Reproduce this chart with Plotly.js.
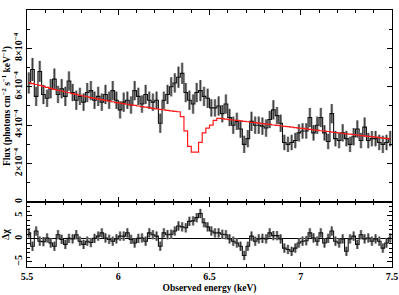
<!DOCTYPE html>
<html>
<head>
<meta charset="utf-8">
<script src="https://cdn.plot.ly/plotly-3.0.1.min.js"></script>
<style>html,body{margin:0;padding:0;background:#fff;}#chart{width:399px;height:295px;}</style>
</head>
<body>
<div id="chart"></div>
<script>
// Bin centres (keV)
const energy = [5.51,5.53,5.55,5.57,5.59,5.61,5.63,5.65,5.67,5.69,5.71,5.73,5.75,5.77,5.79,5.81,5.83,5.85,5.87,5.89,
5.91,5.93,5.95,5.97,5.99,6.01,6.03,6.05,6.07,6.09,6.11,6.13,6.15,6.17,6.19,6.21,6.23,6.25,6.27,6.29,
6.31,6.33,6.35,6.37,6.39,6.41,6.43,6.45,6.47,6.49,6.51,6.53,6.55,6.57,6.59,6.61,6.63,6.65,6.67,6.69,
6.71,6.73,6.75,6.77,6.79,6.81,6.83,6.85,6.87,6.89,6.91,6.93,6.95,6.97,6.99,7.01,7.03,7.05,7.07,7.09,
7.11,7.13,7.15,7.17,7.19,7.21,7.23,7.25,7.27,7.29,7.31,7.33,7.35,7.37,7.39,7.41,7.43,7.45,7.47,7.49];

// Observed flux, units of 1e-4 photons cm^-2 s^-1 keV^-1
const flux = [6.2,6.9,5.5,6.8,5.6,5.4,5.9,6.4,5.6,5.9,5.5,6.3,5.7,5.3,5.5,5.2,5.7,5.8,5.3,5.5,
5.2,5.6,5.3,5.8,5.3,4.8,5.2,5.3,5.05,5.8,5.5,5.1,5.6,5.3,5.2,5.3,4.1,5.3,5.6,6.0,
6.2,6.5,6.7,5.7,5.3,5.1,5.7,5.8,5.5,5.4,4.9,4.9,5.0,4.6,5.1,4.4,4.0,4.2,3.8,3.0,
3.3,4.2,4.0,4.0,3.95,3.85,4.3,4.8,4.5,4.1,3.1,3.0,3.1,3.2,3.6,3.7,3.7,4.4,3.6,4.0,
4.4,3.6,3.15,4.6,3.3,3.2,3.6,3.3,3.0,3.4,3.8,3.2,3.9,3.2,3.3,3.3,3.1,3.0,3.1,3.3];

// 1-sigma errors on flux (same units)
const fluxErr = [0.55,0.6,0.5,0.55,0.5,0.45,0.5,0.55,0.45,0.5,0.5,0.5,0.45,0.5,0.45,0.45,0.5,0.5,0.45,0.5,
0.45,0.5,0.45,0.5,0.45,0.45,0.5,0.45,0.45,0.5,0.45,0.45,0.5,0.45,0.45,0.45,0.5,0.45,0.5,0.5,
0.5,0.55,0.55,0.5,0.5,0.5,0.5,0.55,0.5,0.5,0.45,0.45,0.5,0.45,0.5,0.45,0.45,0.45,0.45,0.45,
0.45,0.5,0.45,0.45,0.45,0.45,0.45,0.5,0.45,0.45,0.4,0.4,0.4,0.4,0.45,0.4,0.4,0.5,0.4,0.45,
0.5,0.4,0.4,0.5,0.4,0.4,0.45,0.4,0.4,0.45,0.45,0.4,0.5,0.4,0.4,0.4,0.4,0.45,0.4,0.4];

// Model (red), same units
const model = [6.22,6.17,6.12,6.07,6.02,5.97,5.92,5.87,5.82,5.78,5.73,5.69,5.64,5.60,5.56,5.52,5.48,5.44,5.40,5.36,
5.33,5.29,5.25,5.22,5.18,5.15,5.12,5.09,5.06,5.03,5.00,4.97,4.94,4.91,4.88,4.85,4.82,4.80,4.77,4.75,
4.72,4.70,4.45,3.70,2.90,2.60,2.60,3.10,3.60,3.85,4.00,4.25,4.36,4.34,4.32,4.29,4.27,4.25,4.22,4.20,
4.18,4.15,4.13,4.11,4.08,4.06,4.04,4.01,3.99,3.97,3.94,3.92,3.90,3.87,3.85,3.83,3.81,3.78,3.76,3.74,
3.71,3.69,3.67,3.64,3.62,3.60,3.58,3.55,3.53,3.51,3.49,3.46,3.44,3.42,3.40,3.38,3.35,3.33,3.31,3.29];

// Residuals (delta chi)
const resid = [1.3,-1.6,1.7,-0.5,-0.6,0.2,-0.9,-1.6,0.9,-0.1,-1.2,0.1,0.0,0.9,-0.5,-1.2,-0.5,-0.8,0.1,0.6,
1.3,0.2,-0.1,-0.5,0.0,0.6,0.6,1.3,-0.1,-0.9,0.1,0.2,-0.5,1.3,0.9,0.6,-1.6,1.3,0.9,1.0,
1.7,2.8,2.6,2.4,3.8,3.9,4.6,5.5,3.5,2.6,1.7,1.3,1.3,1.0,0.9,0.0,-0.5,-0.9,-1.6,-3.6,
-1.6,0.6,-0.5,0.0,0.1,0.0,1.3,0.7,0.7,0.0,-2.0,-2.3,-2.7,-2.0,-0.9,-0.5,-0.4,1.3,0.2,-0.5,
1.3,-0.9,0.1,1.7,-0.5,-0.9,0.0,-2.7,0.0,0.6,-1.2,0.9,0.0,0.2,-0.5,0.0,-0.5,-2.0,-0.9,0.2];
const residErr = energy.map(() => 1);

const yTickVals = [0,2,4,6,8,10];
const yTickText = ['0','2×10<sup>−4</sup>','4×10<sup>−4</sup>','6×10<sup>−4</sup>','8×10<sup>−4</sup>','10<sup>−3</sup>'];
const rTickVals = [-5,0,5];
const rTickText = ['−5','0','5'];

const FONT = 'Liberation Serif, DejaVu Serif, serif';
const GREY = '#8c8c8c';

function dataTraces(x, y, e, xa, ya) {
  return [
    {x:x, y:y, type:'scatter', mode:'markers', marker:{size:1,opacity:0},
     error_y:{type:'data', array:e, visible:true, color:GREY, thickness:2.6, width:0},
     xaxis:xa, yaxis:ya, hoverinfo:'skip'},
    {x:x, y:y, type:'scatter', mode:'markers', marker:{size:1,opacity:0},
     error_y:{type:'data', array:e, visible:true, color:'#222', thickness:0.8, width:0},
     xaxis:xa, yaxis:ya, hoverinfo:'skip'},
    {x:x, y:y, type:'scatter', mode:'lines', line:{shape:'hvh', color:'#111', width:1.1},
     xaxis:xa, yaxis:ya, hoverinfo:'skip'}
  ];
}

const traces = [].concat(
  dataTraces(energy, flux, fluxErr, 'x', 'y'),
  [{x: energy, y: model, type:'scatter', mode:'lines', line:{shape:'hvh', color:'#ff1a1a', width:1.2},
    xaxis:'x', yaxis:'y', hoverinfo:'skip'}],
  dataTraces(energy, resid, residErr, 'x2', 'y2')
);

const axCommon = {
  showline:true, linecolor:'#000', linewidth:1, mirror:'allticks',
  ticks:'inside', ticklen:5, tickcolor:'#000', tickwidth:1,
  showgrid:false, zeroline:false,
  tickfont:{family:FONT, size:10, color:'#000', weight:'bold'}
};

const layout = {
  width:399, height:295,
  margin:{l:27, r:7, t:10, b:28},
  paper_bgcolor:'#fff', plot_bgcolor:'#fff',
  showlegend:false,
  xaxis: Object.assign({}, axCommon, {
    domain:[0,1], anchor:'y', range:[5.5,7.5], tick0:5.5, dtick:0.5, showticklabels:false,
    minor:{ticks:'inside', dtick:0.1, ticklen:3, tickcolor:'#000'}
  }),
  xaxis2: Object.assign({}, axCommon, {
    domain:[0,1], anchor:'y2', range:[5.5,7.5], tick0:5.5, dtick:0.5, matches:'x',
    minor:{ticks:'inside', dtick:0.1, ticklen:3, tickcolor:'#000'},
    title:{text:'Observed energy (keV)', font:{family:FONT, size:9.5, color:'#000', weight:'bold'}, standoff:3}
  }),
  yaxis: Object.assign({}, axCommon, {
    domain:[0.253,1], anchor:'x', range:[0,10],
    tickmode:'array', tickvals:yTickVals, ticktext:yTickText, tickangle:-90,
    tickfont:{family:FONT, size:10, color:'#000', weight:'bold'},
    minor:{ticks:'inside', dtick:1, ticklen:3, tickcolor:'#000'},
    title:{text:'Flux (photons cm<sup>−2</sup> s<sup>−1</sup> keV<sup>−1</sup>)', font:{family:FONT, size:9.5, color:'#000', weight:'bold'}, standoff:1}
  }),
  yaxis2: Object.assign({}, axCommon, {
    domain:[0,0.253], anchor:'x2', range:[-6.1,8.0],
    tickmode:'array', tickvals:rTickVals, ticktext:rTickText, tickangle:-90,
    tickfont:{family:FONT, size:10, color:'#000', weight:'bold'},
    minor:{ticks:'inside', dtick:1, ticklen:3, tickcolor:'#000'},
    zeroline:true, zerolinecolor:'#000', zerolinewidth:1,
    title:{text:'Δχ', font:{family:FONT, size:10, color:'#000', weight:'bold'}, standoff:1}
  })
};

Plotly.newPlot('chart', traces, layout, {displayModeBar:false, staticPlot:true});
</script>
</body>
</html>
